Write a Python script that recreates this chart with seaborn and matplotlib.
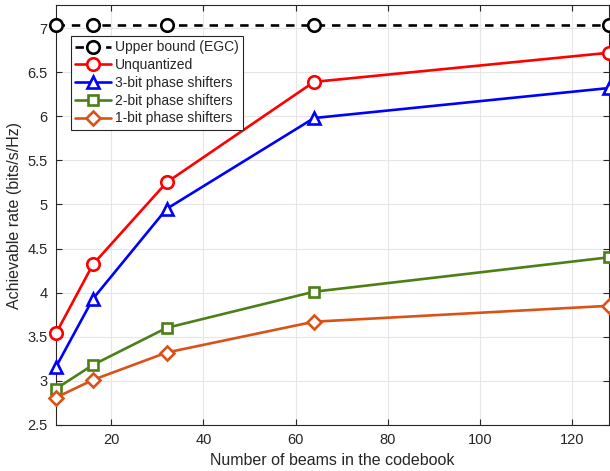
import numpy as np
import pandas as pd
import matplotlib
matplotlib.use("Agg")
import matplotlib.pyplot as plt
import seaborn as sns

beams = [8, 16, 32, 64, 128]
upper_bound = [7.03, 7.03, 7.03, 7.03, 7.03]
unquantized = [3.54, 4.32, 5.25, 6.39, 6.72]
bit3 = [3.16, 3.93, 4.95, 5.98, 6.32]
bit2 = [2.91, 3.18, 3.60, 4.01, 4.40]
bit1 = [2.81, 3.01, 3.32, 3.67, 3.85]

series_names = ["Upper bound (EGC)", "Unquantized", "3-bit phase shifters",
                "2-bit phase shifters", "1-bit phase shifters"]
series_values = [upper_bound, unquantized, bit3, bit2, bit1]
colors = ["black", "#FF0000", "#0000FF", "#4D7F17", "#D95319"]
markers = ["o", "o", "^", "s", "D"]
sizes = [9, 9, 9, 6.5, 7.5]

df = pd.DataFrame({
    "beams": np.tile(beams, len(series_names)),
    "rate": np.concatenate(series_values),
    "series": np.repeat(series_names, len(beams)),
})

sns.set_style("whitegrid")
plt.rcParams["font.family"] = ["Liberation Sans", "DejaVu Sans"]

fig = plt.figure(figsize=(6.1, 4.71), dpi=100)
ax = fig.add_axes([0.092, 0.098, 0.906, 0.891])

# one lineplot call per curve so each gets its own marker/colour
for name, col, mk, ms in zip(series_names, colors, markers, sizes):
    sub = df[df["series"] == name]
    sns.lineplot(data=sub, x="beams", y="rate", ax=ax, color=col, marker=mk,
                 markersize=ms, markerfacecolor="white", markeredgecolor=col,
                 markeredgewidth=1.9, linewidth=1.9, label=name,
                 clip_on=False, zorder=3)
    if name.startswith("Upper"):
        ax.lines[-1].set_linestyle((0, (3.2, 2.6)))

ax.set_xlim(8, 128)
ax.set_ylim(2.5, 7.26)
ax.set_xticks([20, 40, 60, 80, 100, 120])
ax.set_yticks(np.arange(2.5, 7.01, 0.5))
ax.set_yticklabels(["2.5", "3", "3.5", "4", "4.5", "5", "5.5", "6", "6.5", "7"])
ax.set_xlabel("Number of beams in the codebook", fontsize=11.5, color="#262626")
ax.set_ylabel("Achievable rate (bits/s/Hz)", fontsize=11.5, color="#262626")
ax.tick_params(axis="both", labelsize=10.5, colors="#262626", direction="in",
               length=4, width=0.8, pad=6, left=True, bottom=True, right=True, top=True)
ax.grid(True, color="#E6E6E6", linewidth=0.8)
for s in ax.spines.values():
    s.set_color("#262626")
    s.set_linewidth(0.8)

handles, labels = ax.get_legend_handles_labels()
handles[0].set_linestyle((0, (3.2, 2.6)))
leg = ax.legend(handles, labels, loc="upper left", bbox_to_anchor=(0.027, 0.926),
                fontsize=10, frameon=True, fancybox=False, framealpha=1,
                borderpad=0.3, labelspacing=0.27, handlelength=2.6,
                handletextpad=0.25, borderaxespad=0)
leg.get_frame().set_edgecolor("#262626")
leg.get_frame().set_linewidth(0.8)

fig.savefig("out.png", dpi=100)
